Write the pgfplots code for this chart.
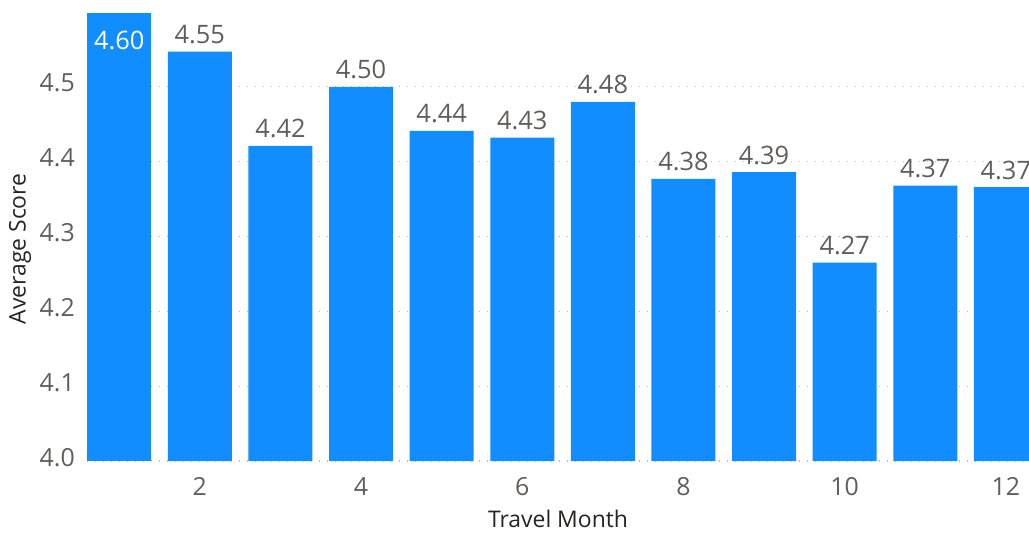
\documentclass[border=0pt]{standalone}
\usepackage{fontspec}
\setmainfont{Open Sans}
\usepackage{pgfplots}
\pgfplotsset{compat=1.18}

\definecolor{barblue}{HTML}{118DFF}
\definecolor{ticktext}{HTML}{605E5C}
\definecolor{titletext}{HTML}{252423}
\definecolor{gridgray}{HTML}{BEBCBA}

\begin{document}
\begin{tikzpicture}
\begin{axis}[
  scale only axis,
  width=942bp, height=461bp,
  at={(0,0)}, anchor=south west,
  xmin=0.6, xmax=12.287,
  ymin=4.0, ymax=4.616,
  axis line style={draw=none},
  major tick length=0pt,
  tick style={draw=none},
  clip=true,
  ybar, bar width=0.794, bar shift=0pt,
  xtick={2,4,6,8,10,12},
  ytick={4.0,4.1,4.2,4.3,4.4,4.5},
  ymajorgrids,
  major grid style={gridgray, line width=1.1bp, dash pattern=on 1.3bp off 6.7bp},
  /pgf/number format/assume math mode=true,
  yticklabel={\pgfmathprintnumber[fixed,precision=1,zerofill]{\tick}},
  xticklabel={\pgfmathprintnumber{\tick}},
  tick label style={font=\fontsize{25}{30}\selectfont, text=ticktext},
  yticklabel style={anchor=base east, inner sep=0pt, xshift=-12bp, yshift=-5bp},
  xticklabel style={anchor=base, inner sep=0pt, yshift=-34bp},
  xlabel={Travel Month},
  ylabel={Average Score},
  label style={font=\fontsize{23}{28}\selectfont, text=titletext},
  xlabel style={at={(axis description cs:0.5,0)}, anchor=base, inner sep=0pt, yshift=-66bp},
  % the label frame is turned by the y axis, so yshift moves it to the left
  ylabel style={at={(axis description cs:0,0.46)}, anchor=center, inner sep=0pt, yshift=67bp},
  nodes near coords={\pgfmathprintnumber[fixed,precision=2,zerofill]{\pgfplotspointmeta}},
]
% month 1: value label sits inside the bar
\addplot[fill=barblue, draw=none,
  every node near coord/.style={anchor=base, inner sep=0pt, yshift=-36bp,
    font=\fontsize{25.5}{30}\selectfont, text=white}]
  coordinates {(1,4.598)};
% months 2--12: value labels above the bars
\addplot[fill=barblue, draw=none,
  every node near coord/.style={anchor=base, inner sep=0pt, yshift=8bp,
    font=\fontsize{25.5}{30}\selectfont, text=ticktext}]
  coordinates {
    (2,4.547) (3,4.421) (4,4.500) (5,4.441) (6,4.432) (7,4.480)
    (8,4.377) (9,4.386) (10,4.265) (11,4.368) (12,4.366)
  };
\end{axis}
\pgfresetboundingbox
\path[use as bounding box] (-87bp,-75bp) rectangle (942bp,461bp);
\end{tikzpicture}
\end{document}
